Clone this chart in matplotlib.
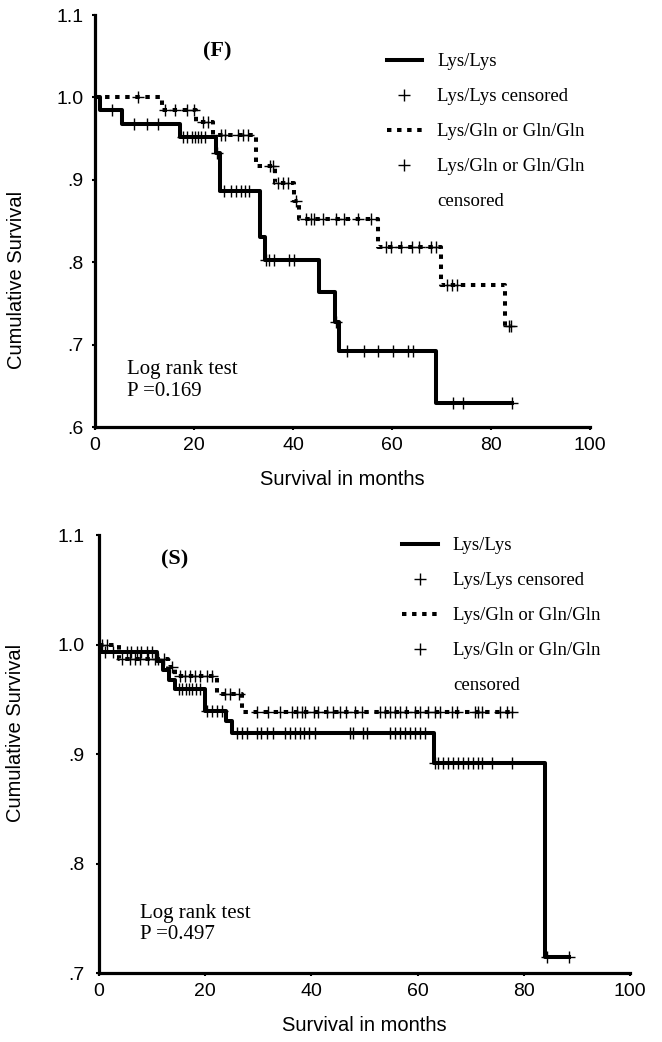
import numpy as np
import matplotlib
matplotlib.use("Agg")
import matplotlib.pyplot as plt
from matplotlib.lines import Line2D

# (F) panel
f_lys_t = [0, 1.0, 5.4, 17.1, 24.5, 25.2, 33.4, 34.3, 45.3, 48.4, 49.3, 68.8]
f_lys_s = [1.0, 0.985, 0.968, 0.952, 0.933, 0.886, 0.830, 0.803, 0.764, 0.728, 0.692, 0.629]
f_lys_end = 84.2
f_lys_cens = [3.4, 7.8, 10.5, 12.8, 17.8, 18.5, 19.5, 20.2, 20.9, 21.5, 22.2, 24.6,
              26.0, 27.4, 28.4, 29.4, 30.4, 31.2, 34.6, 35.2, 36.2, 39.2, 40.2, 48.6,
              51.0, 54.4, 57.2, 60.3, 63.2, 64.3, 72.4, 74.3, 84.2]
f_gln_t = [0, 13.5, 20.5, 23.9, 32.6, 36.3, 40.3, 41.3, 57.2, 69.8, 82.9]
f_gln_s = [1.0, 0.985, 0.970, 0.954, 0.917, 0.896, 0.874, 0.852, 0.819, 0.772, 0.722]
f_gln_end = 84.0
f_gln_cens = [8.7, 14.1, 16.1, 18.5, 19.9, 21.8, 22.8, 25.5, 26.2, 28.9, 29.9, 30.9,
              35.3, 36.0, 37.0, 38.0, 39.0, 40.6, 42.7, 43.7, 44.3, 46.0, 48.7, 50.4,
              53.1, 55.7, 58.8, 59.8, 61.8, 64.1, 65.4, 67.8, 68.8, 71.2, 72.2, 73.2,
              83.6, 84.0]

# (S) panel
s_lys_t = [0, 0.4, 11.0, 12.0, 13.2, 14.3, 20.0, 24.0, 25.0, 63.0, 84.0]
s_lys_s = [1.0, 0.993, 0.985, 0.977, 0.968, 0.959, 0.939, 0.930, 0.919, 0.892, 0.715]
s_lys_end = 88.6
s_lys_cens = [1.1, 2.7, 5.2, 6.1, 7.1, 8.0, 9.0, 9.9, 15.0, 15.6, 16.3, 17.0, 17.6,
              18.3, 19.0, 20.3, 21.2, 22.2, 23.1, 25.9, 26.9, 27.8, 29.7, 30.6, 31.6,
              32.8, 35.0, 36.0, 36.9, 37.9, 38.7, 39.6, 40.6, 47.3, 47.9, 49.8, 50.4,
              54.8, 55.7, 56.7, 57.6, 58.6, 59.5, 60.5, 61.4, 63.2, 63.9, 64.8, 65.8,
              66.7, 67.7, 68.6, 69.5, 70.5, 71.4, 72.1, 74.1, 77.7, 84.3, 88.6]
s_gln_t = [0, 3.8, 13.0, 14.3, 22.2, 26.9]
s_gln_s = [1.0, 0.987, 0.979, 0.971, 0.955, 0.938]
s_gln_end = 77.7
s_gln_cens = [0.5, 1.5, 4.3, 5.8, 6.8, 7.7, 9.3, 10.5, 11.2, 12.2, 13.7, 15.3, 16.2,
              17.1, 18.1, 19.0, 20.3, 21.2, 23.7, 24.6, 26.4, 29.7, 31.9, 34.1, 36.3,
              37.2, 38.2, 38.8, 40.4, 41.3, 42.9, 44.1, 45.4, 46.6, 48.2, 49.5, 52.9,
              53.9, 54.8, 55.7, 56.7, 57.9, 59.5, 60.5, 62.0, 63.3, 64.2, 66.4, 67.4,
              70.8, 71.4, 72.1, 75.5, 76.8, 77.7]

legend_labels = ['Lys/Lys', 'Lys/Lys censored', 'Lys/Gln or Gln/Gln',
                 'Lys/Gln or Gln/Gln', 'censored']
x_ticks = [0, 20, 40, 60, 80, 100]
f_yticks = [0.6, 0.7, 0.8, 0.9, 1.0, 1.1]
f_ylabels = ['.6', '.7', '.8', '.9', '1.0', '1.1']
s_yticks = [0.7, 0.8, 0.9, 1.0, 1.1]
s_ylabels = ['.7', '.8', '.9', '1.0', '1.1']

SERIF = 'Liberation Serif'
SANS = 'Liberation Sans'
DOTS = (0, (1.1, 1.4))


def level_at(t, times, surv):
    idx = np.searchsorted(times, t, side='right') - 1
    return np.asarray(surv)[idx]


def km(ax, times, surv, end, cens, ls):
    xs = np.r_[times, end]
    ys = np.r_[surv, surv[-1]]
    ax.step(xs, ys, where='post', color='k', lw=2.9, ls=ls, zorder=3)
    ax.plot(cens, level_at(cens, times, surv), ls='none', marker='+',
            ms=9, mew=1.0, color='k', zorder=4)


def style(ax, yticks, ylabels, ylim, ylab_y, ypad):
    ax.set_xlim(0, 100)
    ax.set_ylim(*ylim)
    for s in ['top', 'right']:
        ax.spines[s].set_visible(False)
    for s in ['left', 'bottom']:
        ax.spines[s].set_linewidth(2.3)
    ax.set_xticks(x_ticks)
    ax.set_xticklabels([str(v) for v in x_ticks], family=SANS, fontsize=14)
    ax.set_yticks(yticks)
    ax.set_yticklabels(ylabels, family=SANS, fontsize=14)
    ax.tick_params(axis='x', length=2.5, width=1.5, pad=5)
    ax.tick_params(axis='y', length=2.5, width=1.5, pad=ypad)
    ax.set_xlabel('Survival in months', family=SANS, fontsize=14.5, labelpad=11)
    ax.set_ylabel('Cumulative Survival', family=SANS, fontsize=14.5)
    ax.yaxis.set_label_coords(-0.14, ylab_y)


def legend(ax, x, y):
    handles = [Line2D([], [], color='k', lw=2.9),
               Line2D([], [], color='k', ls='none', marker='+', ms=9, mew=1.0),
               Line2D([], [], color='k', lw=2.9, ls=DOTS),
               Line2D([], [], color='k', ls='none', marker='+', ms=9, mew=1.0),
               Line2D([], [], ls='none')]
    ax.legend(handles, legend_labels, loc='upper left', bbox_to_anchor=(x, y),
              frameon=False, borderpad=0, borderaxespad=0, handlelength=1.9,
              handletextpad=0.8, labelspacing=0.95,
              prop={'family': SERIF, 'size': 13.5})


fig = plt.figure(figsize=(6.62, 10.42), dpi=100)

ax1 = fig.add_axes([95 / 662, 1 - 427 / 1042, 495 / 662, 412 / 1042])
km(ax1, f_gln_t, f_gln_s, f_gln_end, f_gln_cens, DOTS)
km(ax1, f_lys_t, f_lys_s, f_lys_end, f_lys_cens, '-')
style(ax1, f_yticks, f_ylabels, (0.6, 1.1), 0.357, 6)
legend(ax1, 0.589, 0.907)
ax1.text(0.247, 0.911, '(F)', transform=ax1.transAxes, ha='center', va='center',
         family=SERIF, fontsize=16, fontweight='bold')
ax1.text(0.065, 0.113, 'Log rank test\nP =0.169', transform=ax1.transAxes,
         ha='left', va='center', family=SERIF, fontsize=15, linespacing=1.2)

ax2 = fig.add_axes([99 / 662, 1 - 973 / 1042, 531 / 662, 438 / 1042])
km(ax2, s_gln_t, s_gln_s, s_gln_end, s_gln_cens, DOTS)
km(ax2, s_lys_t, s_lys_s, s_lys_end, s_lys_cens, '-')
style(ax2, s_yticks, s_ylabels, (0.7, 1.1), 0.549, 8)
legend(ax2, 0.571, 0.995)
ax2.text(0.143, 0.943, '(S)', transform=ax2.transAxes, ha='center', va='center',
         family=SERIF, fontsize=16, fontweight='bold')
ax2.text(0.077, 0.112, 'Log rank test\nP =0.497', transform=ax2.transAxes,
         ha='left', va='center', family=SERIF, fontsize=15, linespacing=1.2)

fig.savefig('out.png', dpi=100)
